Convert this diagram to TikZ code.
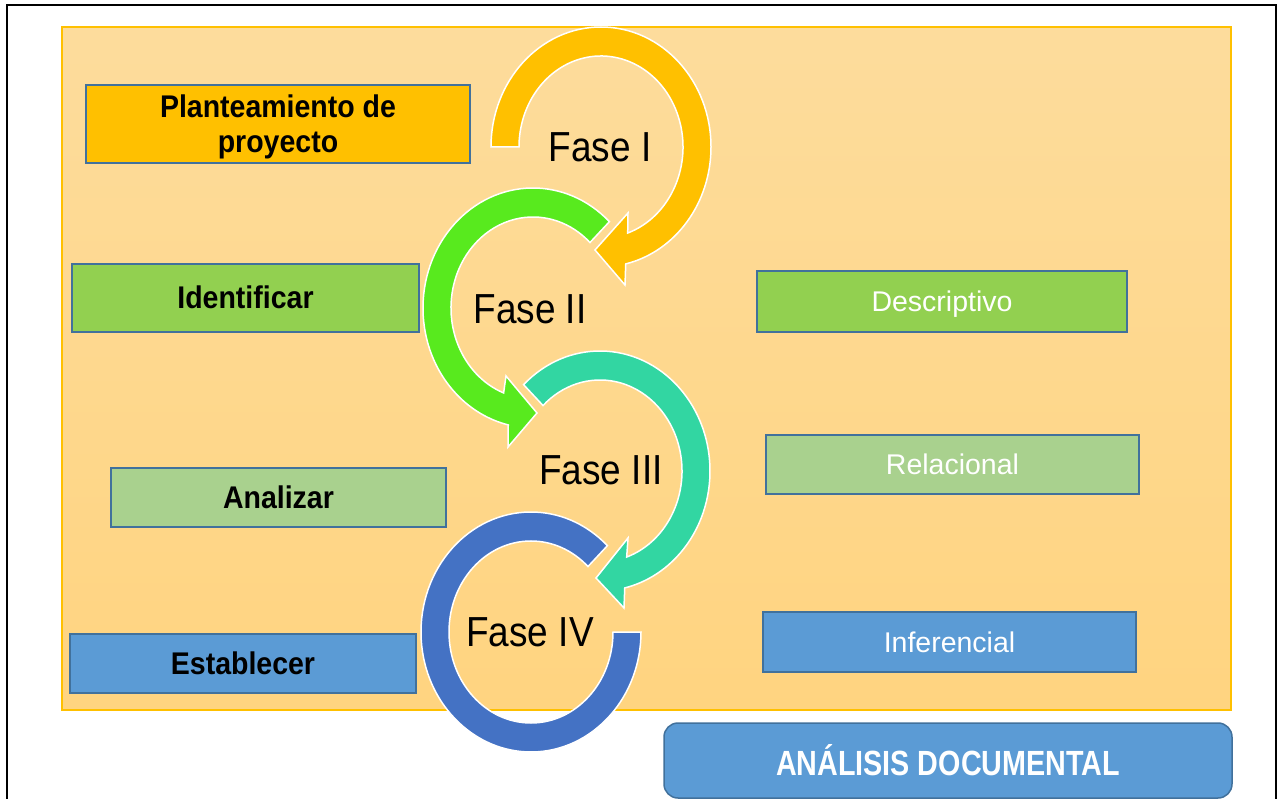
\documentclass[tikz,border=0pt]{standalone}
\usepackage{fontspec}
\usepackage{graphicx}
\setmainfont{Liberation Sans}
\definecolor{cYel}{HTML}{FFC000}
\definecolor{cGreenArr}{RGB}{88,234,30}
\definecolor{cTeal}{RGB}{50,214,162}
\definecolor{cBlueArr}{HTML}{4472C4}
\definecolor{cLime}{HTML}{92D050}
\definecolor{cSage}{HTML}{A9D18E}
\definecolor{cSky}{HTML}{5B9BD5}
\definecolor{boxline}{HTML}{41719C}
\definecolor{bgtop}{RGB}{253,220,156}
\definecolor{bgbot}{RGB}{255,212,128}
\definecolor{panelline}{HTML}{FFC000}
\newcommand{\fasetxt}[1]{\scalebox{0.88}[1]{#1}}
\newcommand{\vst}[1]{\scalebox{1}[1.1]{#1}}
\begin{document}
\begin{tikzpicture}[x=1pt,y=1pt,
  leftbox/.style={draw=boxline, line width=1.5pt, inner sep=0pt, align=center,
    font=\fontsize{28.5}{35.4}\selectfont\bfseries, text=black,
    text height=22pt, text depth=0pt},
  rightbox/.style={draw=boxline, line width=1.5pt, inner sep=0pt, align=center,
    font=\fontsize{28.5}{34}\selectfont, text=white,
    text height=21pt, text depth=0pt},
  fasetext/.style={font=\fontsize{42}{44}\selectfont, text=black, inner sep=0pt},
  ring/.style={draw=white, line width=1.5pt}]
\useasboundingbox (0,0) rectangle (1278,-799);
\clip (0,0) rectangle (1278,-799);
\fill[white] (0,0) rectangle (1278,-799);
\draw[black, line width=1.6pt] (7,-5) rectangle (1276,-840);

% background panel
\node[draw=panelline, line width=1.2pt, top color=bgtop, bottom color=bgbot,
  minimum width=1169pt, minimum height=683pt, inner sep=0pt] (panel) at (646.5,-368.5) {};

% circular arrows
\begin{scope}[shift={(601,-147)}]
\filldraw[ring, fill=cYel] (180:110pt and 120pt)
  arc[start angle=180, end angle=-77, x radius=110pt, y radius=120pt]
  -- (24,-138) -- (-6,-103) -- (27,-66) -- (-71:82pt and 91pt)
  arc[start angle=-71, end angle=180, x radius=82pt, y radius=91pt] -- cycle;
\end{scope}
\begin{scope}[shift={(533,-308)}]
\filldraw[ring, fill=cGreenArr] (46:110pt and 120pt)
  arc[start angle=46, end angle=257, x radius=110pt, y radius=120pt]
  -- (-25,-139) -- (4,-105) -- (-27,-68) -- (249:82pt and 91pt)
  arc[start angle=249, end angle=46, x radius=82pt, y radius=91pt] -- cycle;
\end{scope}
\begin{scope}[shift={(600,-471)}]
\filldraw[ring, fill=cTeal] (134:110pt and 120pt)
  arc[start angle=134, end angle=-77, x radius=110pt, y radius=120pt]
  -- (24,-137) -- (-4,-107) -- (28,-67) -- (-71:82pt and 91pt)
  arc[start angle=-71, end angle=134, x radius=82pt, y radius=91pt] -- cycle;
\end{scope}
\begin{scope}[shift={(531,-632)}]
\filldraw[ring, fill=cBlueArr] (46:110pt and 120pt)
  arc[start angle=46, end angle=360, x radius=110pt, y radius=120pt]
  -- (0:82pt and 91pt)
  arc[start angle=360, end angle=46, x radius=82pt, y radius=91pt] -- cycle;
\end{scope}

% phase labels
\node[fasetext] (f1) at (600,-147) {\fasetxt{Fase I}};
\node[fasetext] (f2) at (530,-309) {\fasetxt{Fase II}};
\node[fasetext] (f3) at (601,-470) {\fasetxt{Fase III}};
\node[fasetext] (f4) at (530,-632) {\fasetxt{Fase IV}};

% left boxes
\node[leftbox, fill=cYel, minimum width=384pt, minimum height=78pt, text height=57.4pt, text depth=0pt] (plan) at (278,-124) {\vst{Planteamiento de}\\\vst{proyecto}};
\node[leftbox, fill=cLime, minimum width=347pt, minimum height=68pt] (ident) at (245.5,-298) {\vst{Identificar}};
\node[leftbox, fill=cSage, minimum width=335pt, minimum height=59pt] (anal) at (278.5,-497.5) {\vst{Analizar}};
\node[leftbox, fill=cSky, minimum width=346pt, minimum height=59pt] (estab) at (243,-663.5) {\vst{Establecer}};

% right boxes
\node[rightbox, fill=cLime, minimum width=370pt, minimum height=61pt] (desc) at (942,-301.5) {Descriptivo};
\node[rightbox, fill=cSage, minimum width=373pt, minimum height=59pt] (relac) at (952.5,-464.5) {Relacional};
\node[rightbox, fill=cSky, minimum width=373pt, minimum height=60pt] (infer) at (949.5,-642) {Inferencial};

% bottom title
\node[draw=boxline, line width=1.5pt, fill=cSky, rounded corners=14pt, inner sep=0pt,
  minimum width=568pt, minimum height=75pt, text=white,
  font=\fontsize{35}{38}\selectfont\bfseries] (title) at (948,-760.5)
  {\scalebox{0.82}[1]{ANÁLISIS DOCUMENTAL}};
\end{tikzpicture}
\end{document}
